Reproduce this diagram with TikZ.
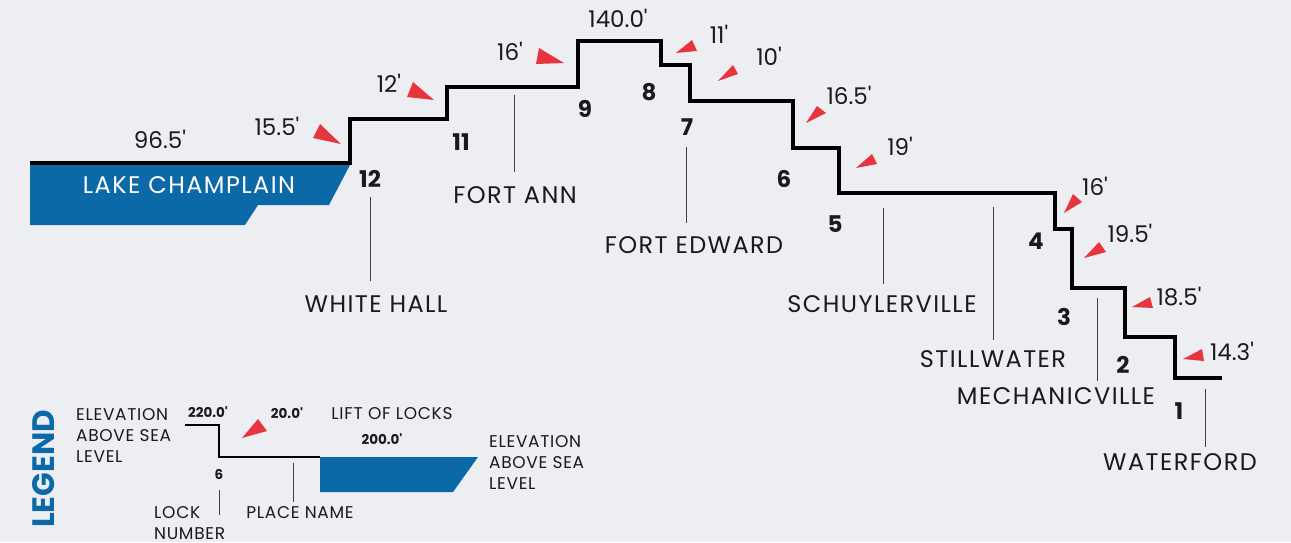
\documentclass[tikz,border=0pt]{standalone}
\usepackage{fontspec}
\setmainfont{Poppins}[Ligatures=TeXOff]
\newfontfamily\placefont{Poppins}[Ligatures=TeXOff, LetterSpace=6]
\newfontfamily\legfont{Poppins}[Ligatures=TeXOff, LetterSpace=4]
\usepackage{tikz}
\definecolor{lkblue}{HTML}{0B69A7}
\definecolor{lkred}{HTML}{E6353F}
\definecolor{lkpaper}{HTML}{EDEEF2}
\definecolor{lkink}{HTML}{1A1A1A}

\tikzset{
  place/.style={inner sep=0pt, text=lkink, font=\placefont\fontsize{24}{24}\selectfont},
  lift/.style={inner sep=0pt, text=lkink, font=\fontsize{23}{23}\selectfont},
  locknum/.style={inner sep=0pt, text=lkink, font=\fontsize{23}{23}\selectfont\bfseries},
  legtext/.style={inner sep=0pt, text=lkink, align=left, font=\legfont\fontsize{17}{21}\selectfont},
  legnum/.style={inner sep=0pt, text=lkink, font=\fontsize{13.5}{14}\selectfont\bfseries},
  leader/.style={draw=black!75, line width=0.9pt},
  canal/.style={draw=black, line width=4pt},
  legcanal/.style={draw=black, line width=2.2pt},
  liftmark/.style={fill=lkred},
}

\begin{document}
\begin{tikzpicture}[x=1pt, y=-1pt]
  \fill[lkpaper] (0,0) rectangle (1291,542);
  \useasboundingbox (0,0) rectangle (1291,542);

  % lake and canal profile
  \fill[lkblue] (30,165) -- (350,165) -- (329,205) -- (258,205) -- (245,225) -- (30,225) -- cycle;
  \node[place, text=white] (lake) at (189,185) {LAKE CHAMPLAIN};
  \draw[canal] (30,163) -- (350,163) -- (350,119) -- (447,119) -- (447,87) -- (578,87) -- (578,41)
    -- (661,41) -- (661,65) -- (690,65) -- (690,101) -- (793,101) -- (793,148) -- (839,148)
    -- (839,193) -- (1055,193) -- (1055,229) -- (1072,229) -- (1072,288) -- (1125,288)
    -- (1125,337) -- (1175,337) -- (1175,378) -- (1222,378);

  % elevations and lifts
  \node[lift] (elev12) at (160,139) {96.5'};
  \node[lift] (lift12) at (277,126) {15.5'};
  \node[lift] (lift11) at (389,83) {12'};
  \node[lift] (lift9) at (510,51) {16'};
  \node[lift] (elev9) at (618,18) {140.0'};
  \node[lift] (lift8) at (719,34) {11'};
  \node[lift] (lift7) at (769,56) {10'};
  \node[lift] (lift6) at (849,95) {16.5'};
  \node[lift] (lift5) at (900,146) {19'};
  \node[lift] (lift4) at (1095,186) {16'};
  \node[lift] (lift3) at (1130,233) {19.5'};
  \node[lift] (lift2) at (1179,297) {18.5'};
  \node[lift] (lift1) at (1232,351) {14.3'};

  \fill[liftmark] (313,138) -- (320,124) -- (341,144) -- cycle;
  \fill[liftmark] (407,97) -- (413,82) -- (434,100) -- cycle;
  \fill[liftmark] (536,64) -- (539,48) -- (564,63) -- cycle;
  \fill[liftmark] (676,53) -- (692,40) -- (697,51) -- cycle;
  \fill[liftmark] (718,81) -- (733,65) -- (738,74) -- cycle;
  \fill[liftmark] (806,123) -- (817,106) -- (826,113) -- cycle;
  \fill[liftmark] (856,168) -- (872,154) -- (877,164) -- cycle;
  \fill[liftmark] (1064,213) -- (1073,194) -- (1082,202) -- cycle;
  \fill[liftmark] (1084,258) -- (1099,242) -- (1106,252) -- cycle;
  \fill[liftmark] (1132,307) -- (1150,297) -- (1153,308) -- cycle;
  \fill[liftmark] (1183,359) -- (1202,349) -- (1204,361) -- cycle;

  % lock numbers
  \node[locknum] (lock12) at (370,179) {12};
  \node[locknum] (lock11) at (461,142) {11};
  \node[locknum] (lock9) at (585,109) {9};
  \node[locknum] (lock8) at (649,92) {8};
  \node[locknum] (lock7) at (687,127) {7};
  \node[locknum] (lock6) at (784,179) {6};
  \node[locknum] (lock5) at (835,224) {5};
  \node[locknum] (lock4) at (1036,241) {4};
  \node[locknum] (lock3) at (1064,317) {3};
  \node[locknum] (lock2) at (1123,365) {2};
  \node[locknum] (lock1) at (1179,411) {1};

  % place names
  \node[place] (whitehall) at (376,304) {WHITE HALL};
  \node[place] (fortann) at (515,195) {FORT ANN};
  \node[place] (fortedward) at (694,245) {FORT EDWARD};
  \node[place] (schuylerville) at (882,304) {SCHUYLERVILLE};
  \node[place] (stillwater) at (993,359) {STILLWATER};
  \node[place] (mechanicville) at (1056,396) {MECHANICVILLE};
  \node[place] (waterford) at (1180,462) {WATERFORD};

  \coordinate (whitehall-top) at (370,197);
  \coordinate (fortann-top) at (514,95);
  \coordinate (fortedward-top) at (686,147);
  \coordinate (schuylerville-top) at (883,208);
  \coordinate (stillwater-top) at (993,207);
  \coordinate (mechanicville-top) at (1097,298);
  \coordinate (waterford-top) at (1205,389);
  \draw[leader, shorten >=14pt] (whitehall-top) -- (whitehall-top |- whitehall.north);
  \draw[leader, shorten >=14pt] (fortann-top) -- (fortann-top |- fortann.north);
  \draw[leader, shorten >=13pt] (fortedward-top) -- (fortedward-top |- fortedward.north);
  \draw[leader, shorten >=11pt] (schuylerville-top) -- (schuylerville-top |- schuylerville.north);
  \draw[leader, shorten >=10pt] (stillwater-top) -- (stillwater-top |- stillwater.north);
  \draw[leader, shorten >=6pt] (mechanicville-top) -- (mechanicville-top |- mechanicville.north);
  \draw[leader, shorten >=6pt] (waterford-top) -- (waterford-top |- waterford.north);

  % legend
  \node[inner sep=0pt, rotate=90, text=lkblue, font=\fontsize{31}{31}\selectfont\bfseries] (legend) at (44,469) {LEGEND};
  \node[legtext, anchor=north west] (leg-elevtop) at (76,408) {ELEVATION\\ABOVE SEA\\LEVEL};
  \node[legnum] (leg-high) at (208,412) {220.0'};
  \node[legnum] (leg-lift) at (287,413) {20.0'};
  \node[legtext] (leg-liftname) at (392,414) {LIFT OF LOCKS};
  \node[legnum] (leg-low) at (382,439) {200.0'};
  \fill[lkblue] (320,457) -- (478,457) -- (453,492) -- (320,492) -- cycle;
  \draw[legcanal] (185,425) -- (219,425) -- (219,457) -- (320,457);
  \fill[liftmark] (242,438) -- (258,419) -- (267,431) -- cycle;
  \node[legtext, anchor=north west] (leg-elevbot) at (489,435) {ELEVATION\\ABOVE SEA\\LEVEL};
  \node[legnum] (leg-num) at (219,474) {6};
  \node[legtext, anchor=north west] (leg-lockname) at (154,506) {LOCK\\NUMBER};
  \node[legtext] (leg-placename) at (300,513) {PLACE NAME};
  \coordinate (leg-lock-end) at (219,515);
  \coordinate (leg-place-top) at (293,463);
  \draw[leader, shorten <=11pt] (leg-num.south) -- (leg-lock-end);
  \draw[leader, shorten >=5pt] (leg-place-top) -- (leg-place-top |- leg-placename.north);
\end{tikzpicture}
\end{document}
